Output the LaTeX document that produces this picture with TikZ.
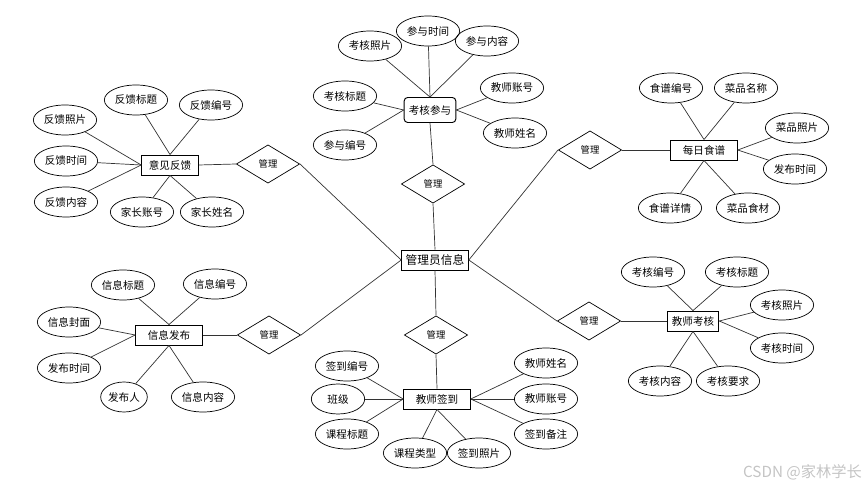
\documentclass[tikz,border=0pt]{standalone}
\usepackage{fontspec}
\usepackage{tikz}
\usetikzlibrary{shapes.geometric}
\newfontfamily\cjk{Noto Sans CJK SC}
\definecolor{edgecol}{HTML}{333333}
\definecolor{wmark}{HTML}{C4C4C4}

\begin{document}
\begin{tikzpicture}[
  x=0.03cm, y=-0.03cm,
  every node/.style={font=\cjk\fontsize{9}{11}\selectfont},
  entity/.style={draw, line width=0.8pt, minimum width=1.7cm, minimum height=0.6cm, inner sep=1pt},
  attr/.style={draw, ellipse, line width=0.6pt, minimum width=1.9cm, minimum height=0.9cm, inner sep=0pt},
  rel/.style={draw, diamond, line width=0.6pt, minimum width=1.9cm, minimum height=1.15cm,
    inner sep=0pt, font=\cjk\fontsize{8}{10}\selectfont},
  link/.style={draw=edgecol, line width=0.6pt}
]
\useasboundingbox (0,0) rectangle (866,487);

% Center
\node[entity, minimum width=2cm, font=\cjk\fontsize{10}{12}\selectfont] (admin) at (435,260) {管理员信息};

% 考核参与
\node[entity, rounded corners=3pt, minimum width=1.55cm, minimum height=0.75cm] (exam) at (430,110) {考核参与};
\node[attr] (ex1) at (370,46) {考核照片};
\node[attr] (ex2) at (428,31) {参与时间};
\node[attr] (ex3) at (487,41) {参与内容};
\node[attr] (ex4) at (345,96) {考核标题};
\node[attr] (ex5) at (345,145) {参与编号};
\node[attr] (ex6) at (512,88) {教师账号};
\node[attr] (ex7) at (515,133) {教师姓名};
\node[rel] (m1) at (433,184) {管理};

% 意见反馈
\node[entity] (fb) at (170,165) {意见反馈};
\node[attr] (fb1) at (136,100) {反馈标题};
\node[attr] (fb2) at (211,105) {反馈编号};
\node[attr] (fb3) at (65,120) {反馈照片};
\node[attr] (fb4) at (66,161) {反馈时间};
\node[attr] (fb5) at (66,202) {反馈内容};
\node[attr] (fb6) at (142,212) {家长账号};
\node[attr] (fb7) at (212,212) {家长姓名};
\node[rel] (m2) at (268,164) {管理};

% 每日食谱
\node[entity, minimum width=2cm] (menu) at (704,150) {每日食谱};
\node[attr] (mn1) at (671,88) {食谱编号};
\node[attr] (mn2) at (746,88) {菜品名称};
\node[attr] (mn3) at (797,128) {菜品照片};
\node[attr] (mn4) at (795,169) {发布时间};
\node[attr] (mn5) at (670,208) {食谱详情};
\node[attr] (mn6) at (748,208) {菜品食材};
\node[rel] (m3) at (590,150) {管理};

% 信息发布
\node[entity, minimum width=2cm] (news) at (169,335) {信息发布};
\node[attr] (nw1) at (123,285) {信息标题};
\node[attr] (nw2) at (215,284) {信息编号};
\node[attr] (nw3) at (69,322) {信息封面};
\node[attr] (nw4) at (69,368) {发布时间};
\node[attr, minimum width=1.4cm] (nw5) at (124,397) {发布人};
\node[attr] (nw6) at (203,397) {信息内容};
\node[rel] (m4) at (269,335) {管理};

% 教师签到
\node[entity, minimum width=2cm] (sign) at (437,399) {教师签到};
\node[attr] (sg1) at (347,366) {签到编号};
\node[attr, minimum width=1.6cm] (sg2) at (338,399) {班级};
\node[attr] (sg3) at (347,434) {课程标题};
\node[attr] (sg4) at (415,453) {课程类型};
\node[attr] (sg5) at (479,453) {签到照片};
\node[attr] (sg6) at (546,363) {教师姓名};
\node[attr] (sg7) at (546,399) {教师账号};
\node[attr] (sg8) at (546,434) {签到备注};
\node[rel] (m5) at (436,335) {管理};

% 教师考核
\node[entity, minimum width=1.55cm] (assess) at (693,321) {教师考核};
\node[attr] (as1) at (653,272) {考核编号};
\node[attr] (as2) at (737,272) {考核标题};
\node[attr] (as3) at (782,305) {考核照片};
\node[attr] (as4) at (782,348) {考核时间};
\node[attr] (as5) at (660,381) {考核内容};
\node[attr] (as6) at (728,381) {考核要求};
\node[rel] (m6) at (589,321) {管理};

% Watermark
\node[text=wmark, anchor=east, inner sep=0pt, font=\cjk\fontsize{13}{15}\selectfont] (mark) at (862,472) {CSDN @家林学长};

% Links
\draw[link] (ex1) -- (exam.north);
\draw[link] (ex2) -- (exam.north);
\draw[link] (ex3) -- (exam.north);
\draw[link] (ex4) -- (exam.west);
\draw[link] (ex5) -- (exam.west);
\draw[link] (ex6) -- (exam.east);
\draw[link] (ex7) -- (exam.east);
\draw[link] (exam.south) -- (m1.north);
\draw[link] (m1.south) -- (admin.north);

\draw[link] (fb1) -- (fb.north);
\draw[link] (fb2) -- (fb.north);
\draw[link] (fb3) -- (fb.west);
\draw[link] (fb4) -- (fb.west);
\draw[link] (fb5) -- (fb.west);
\draw[link] (fb6) -- (fb.south);
\draw[link] (fb7) -- (fb.south);
\draw[link] (fb.east) -- (m2.west);
\draw[link] (m2.east) -- (admin.west);

\draw[link] (mn1) -- (menu.north);
\draw[link] (mn2) -- (menu.north);
\draw[link] (mn3) -- (menu.east);
\draw[link] (mn4) -- (menu.east);
\draw[link] (mn5) -- (menu.south);
\draw[link] (mn6) -- (menu.south);
\draw[link] (m3.east) -- (menu.west);
\draw[link] (admin.east) -- (m3.west);

\draw[link] (nw1) -- (news.north);
\draw[link] (nw2) -- (news.north);
\draw[link] (nw3) -- (news.west);
\draw[link] (nw4) -- (news.west);
\draw[link] (nw5) -- (news.south);
\draw[link] (nw6) -- (news.south);
\draw[link] (news.east) -- (m4.west);
\draw[link] (m4.east) -- (admin.west);

\draw[link] (sg1) -- (sign.west);
\draw[link] (sg2) -- (sign.west);
\draw[link] (sg3) -- (sign.west);
\draw[link] (sg4) -- (sign.south);
\draw[link] (sg5) -- (sign.south);
\draw[link] (sg6) -- (sign.east);
\draw[link] (sg7) -- (sign.east);
\draw[link] (sg8) -- (sign.east);
\draw[link] (admin.south) -- (m5.north);
\draw[link] (m5.south) -- (sign.north);

\draw[link] (as1) -- (assess.north);
\draw[link] (as2) -- (assess.north);
\draw[link] (as3) -- (assess.east);
\draw[link] (as4) -- (assess.east);
\draw[link] (as5) -- (assess.south);
\draw[link] (as6) -- (assess.south);
\draw[link] (m6.east) -- (assess.west);
\draw[link] (admin.east) -- (m6.west);

\end{tikzpicture}
\end{document}
